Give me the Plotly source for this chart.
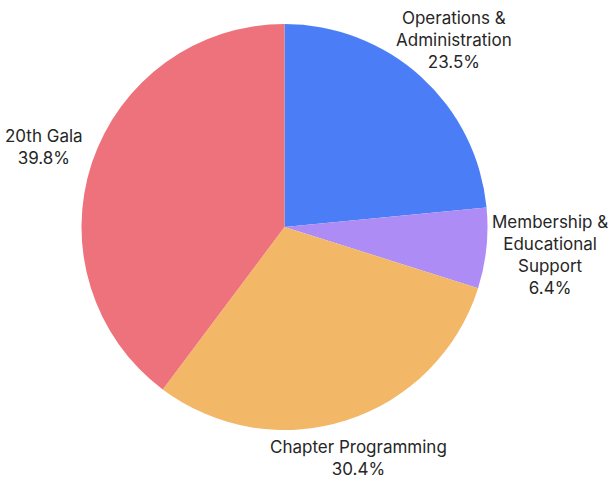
import math
import plotly.graph_objects as go

# Budget allocation by category
categories = ["Operations &<br>Administration", "Membership &<br>Educational<br>Support",
              "Chapter Programming", "20th Gala"]
shares = [23.5, 6.4, 30.4, 39.8]
colors = ["#4A7DF6", "#AD8CF5", "#F2B867", "#EE727C"]

# Canvas and pie geometry (pixels)
W, H = 615, 481
CX, CY, R = 284.5, 227.0, 203.0
# distance of each label's centre from the pie centre
label_dist = [252, 267, 243, 254]

fig = go.Figure(go.Pie(
    labels=[c.replace("<br>", " ") for c in categories],
    values=shares,
    sort=False,
    direction="clockwise",
    rotation=0,
    marker=dict(colors=colors, line=dict(width=0)),
    textinfo="none",
    hoverinfo="label+percent",
    domain=dict(x=[(CX - R) / W, (CX + R) / W],
                y=[(H - CY - R) / H, (H - CY + R) / H]),
    showlegend=False,
))

total = sum(shares)
cum = 0.0
annotations = []
for cat, val, d in zip(categories, shares, label_dist):
    mid = (cum + val / 2) / total * 2 * math.pi
    cum += val
    px = CX + d * math.sin(mid)
    py = CY - d * math.cos(mid)
    annotations.append(dict(
        x=px / W, y=1 - py / H, xref="paper", yref="paper",
        text=f"{cat}<br>{val:.1f}%", showarrow=False,
        xanchor="center", yanchor="middle", align="center",
        font=dict(family="Inter", size=17, color="#262626"),
    ))

fig.update_layout(
    width=W, height=H,
    margin=dict(l=0, r=0, t=0, b=0),
    paper_bgcolor="white",
    plot_bgcolor="white",
    annotations=annotations,
)

fig.write_html("out.html")
